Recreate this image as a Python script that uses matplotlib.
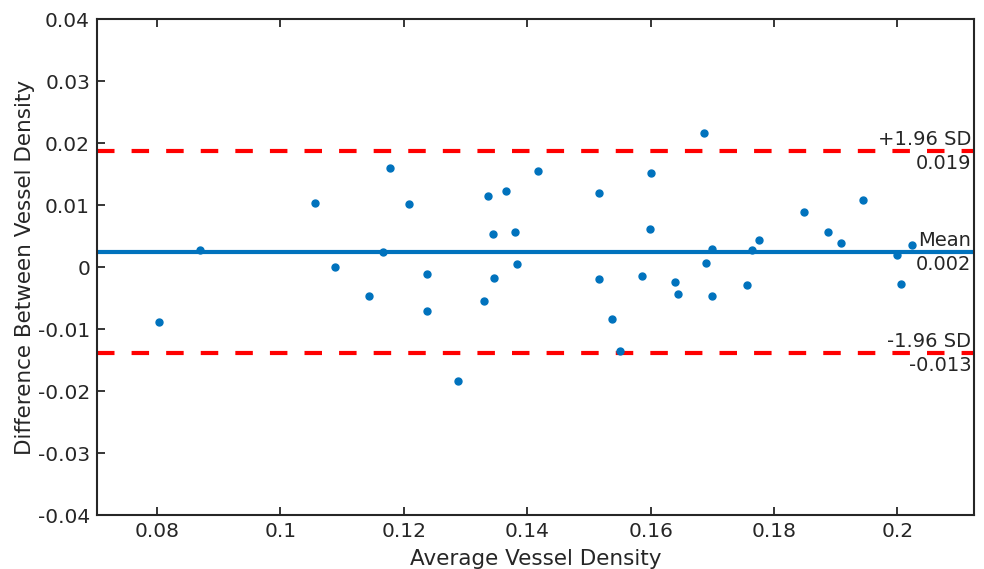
import matplotlib
matplotlib.use("Agg")
import matplotlib.pyplot as plt

avg_density = [0.0803, 0.0870, 0.1057, 0.1178, 0.1209, 0.1088, 0.1167, 0.1143,
               0.1237, 0.1237, 0.1288, 0.1337, 0.1365, 0.1345, 0.1381, 0.1330,
               0.1346, 0.1383, 0.1418, 0.1517, 0.1600, 0.1599, 0.1687, 0.1699,
               0.1689, 0.1516, 0.1586, 0.1639, 0.1644, 0.1699, 0.1538, 0.1551,
               0.1757, 0.1764, 0.1776, 0.1849, 0.1888, 0.1909, 0.1944, 0.1999,
               0.2005, 0.2024]
diff_density = [-0.0089, 0.0027, 0.0103, 0.0159, 0.0102, 0.0000, 0.0025, -0.0046,
                -0.0012, -0.0071, -0.0184, 0.0114, 0.0123, 0.0054, 0.0056, -0.0055,
                -0.0018, 0.0005, 0.0155, 0.0119, 0.0152, 0.0061, 0.0216, 0.0029,
                0.0007, -0.0020, -0.0015, -0.0024, -0.0043, -0.0046, -0.0084, -0.0135,
                -0.0029, 0.0028, 0.0043, 0.0089, 0.0057, 0.0038, 0.0108, 0.0019,
                -0.0027, 0.0035]

mean_diff = 0.0025
upper_loa = 0.0187
lower_loa = -0.0138
label_texts = [("+1.96 SD", "0.019"), ("Mean", "0.002"), ("-1.96 SD", "-0.013")]

xlim = (0.0703, 0.2124)
ylim = (-0.04, 0.04)
xticks = [0.08, 0.10, 0.12, 0.14, 0.16, 0.18, 0.20]
xticklabels = ["0.08", "0.1", "0.12", "0.14", "0.16", "0.18", "0.2"]
yticks = [-0.04, -0.03, -0.02, -0.01, 0, 0.01, 0.02, 0.03, 0.04]
yticklabels = ["-0.04", "-0.03", "-0.02", "-0.01", "0", "0.01", "0.02", "0.03", "0.04"]

blue = "#0072BD"
red = "#FF0000"
dark = "#262626"

fig = plt.figure(figsize=(9.84, 5.69), dpi=100)
ax = fig.add_axes([0.0986, 0.0949, 0.8912, 0.8717])

lw = 3.0
ax.axhline(mean_diff, color=blue, lw=lw, zorder=2)
for yv in (upper_loa, lower_loa):
    ax.axhline(yv, color=red, lw=lw, dashes=(4.2, 4.1), zorder=2)
ax.plot(avg_density, diff_density, 'o', color=blue, markersize=5.0, zorder=3)

ax.set_xlim(*xlim)
ax.set_ylim(*ylim)
ax.set_xticks(xticks)
ax.set_xticklabels(xticklabels)
ax.set_yticks(yticks)
ax.set_yticklabels(yticklabels)
ax.tick_params(direction='in', length=6, width=1.3, colors=dark, labelsize=14.5,
               top=True, right=False, pad=5)
for s in ax.spines.values():
    s.set_color(dark)
    s.set_linewidth(1.5)

ax.set_xlabel("Average Vessel Density", fontsize=15.5, color=dark, labelpad=6)
ax.set_ylabel("Difference Between Vessel Density", fontsize=15.5, color=dark, labelpad=2)

xr = xlim[1] - 0.0004
for (top, bot), yv in zip(label_texts, (upper_loa, mean_diff, lower_loa)):
    ax.text(xr, yv + 0.0003, top, ha='right', va='bottom', fontsize=14, color=dark)
    ax.text(xr, yv - 0.0005, bot, ha='right', va='top', fontsize=14, color=dark)

fig.savefig("out.png", dpi=100)
